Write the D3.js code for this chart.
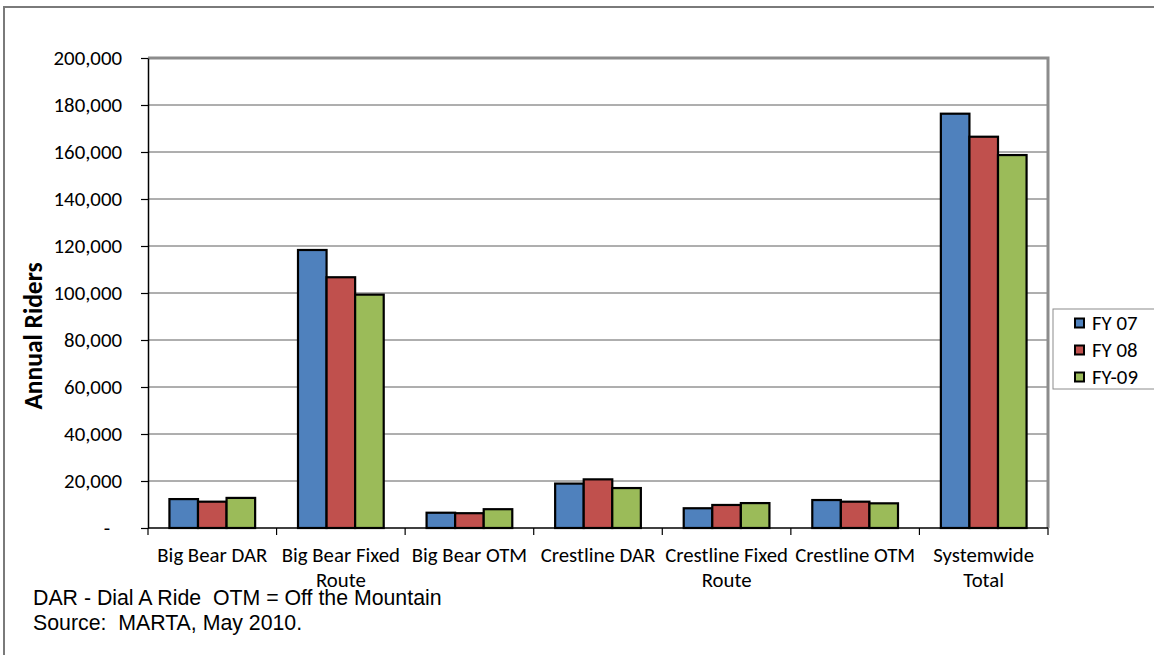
<!DOCTYPE html>
<html>
<head>
<meta charset="utf-8">
<script src="https://cdn.jsdelivr.net/npm/d3@7"></script>
<style>
  html, body { margin: 0; padding: 0; background: #fff; }
  svg { display: block; }
  .calib { font-family: Carlito, Calibri, Lato, sans-serif; }
  .note { white-space: pre; }
</style>
</head>
<body>
<svg id="chart" width="1154" height="655"></svg>
<script>
// Annual riders by service, three fiscal years
const categories = ["Big Bear DAR", "Big Bear Fixed Route", "Big Bear OTM", "Crestline DAR",
                    "Crestline Fixed Route", "Crestline OTM", "Systemwide Total"];
const seriesNames = ["FY 07", "FY 08", "FY-09"];
const fy07 = [12300, 118300, 6500, 18900, 8400, 11900, 176300];
const fy08 = [11200, 106700, 6300, 20700, 9800, 11200, 166500];
const fy09 = [12800, 99300, 8000, 17000, 10600, 10500, 158700];
const seriesColors = ["#4F81BD", "#C0504D", "#9BBB59"];
const yTicks = [0, 20000, 40000, 60000, 80000, 100000, 120000, 140000, 160000, 180000, 200000];
const footnotes = ["DAR - Dial A Ride  OTM = Off the Mountain", "Source:  MARTA, May 2010."];

const seriesValues = [fy07, fy08, fy09];
const rows = categories.map((c, i) => ({
  category: c,
  values: seriesNames.map((s, j) => ({ series: s, value: seriesValues[j][i], color: seriesColors[j] }))
}));

const svg = d3.select("#chart");
const plot = { left: 148, right: 1048, top: 58, bottom: 528 };
const labelSize = 20.8;

// outer chart frame (runs off the right and bottom edges)
svg.append("rect")
  .attr("x", 4).attr("y", 7).attr("width", 1300).attr("height", 800)
  .attr("fill", "#fff").attr("stroke", "#7a7a7a").attr("stroke-width", 2);

const y = d3.scaleLinear().domain([0, 200000]).range([plot.bottom, plot.top]);
const x0 = d3.scaleBand().domain(categories).range([plot.left, plot.right]).padding(0);
const x1 = d3.scaleBand().domain(seriesNames).range([0, x0.bandwidth()])
  .paddingInner(0).paddingOuter(0.75);

// horizontal gridlines
svg.append("g").selectAll("line").data(yTicks.filter(t => t > 0 && t < 200000)).join("line")
  .attr("x1", plot.left).attr("x2", plot.right)
  .attr("y1", d => y(d)).attr("y2", d => y(d))
  .attr("stroke", "#5e5e5e").attr("stroke-width", 1);

// plot area border (top and right)
svg.append("path")
  .attr("d", `M${plot.left},${y(200000)}H${plot.right}V${plot.bottom}`)
  .attr("fill", "none").attr("stroke", "#8c8c8c").attr("stroke-width", 3);

// bars
const groups = svg.append("g").selectAll("g").data(rows).join("g")
  .attr("transform", d => `translate(${x0(d.category)},0)`);
groups.selectAll("rect").data(d => d.values).join("rect")
  .attr("x", d => x1(d.series))
  .attr("y", d => y(d.value))
  .attr("width", x1.bandwidth())
  .attr("height", d => y(0) - y(d.value))
  .attr("fill", d => d.color)
  .attr("stroke", "#000").attr("stroke-width", 2.2);

// y axis
const yAxis = d3.axisLeft(y).tickValues(yTicks)
  .tickFormat(d => d === 0 ? "-" : d3.format(",")(d))
  .tickSizeInner(7).tickSizeOuter(0).tickPadding(19);
const gy = svg.append("g").attr("transform", `translate(${plot.left},0)`).call(yAxis);
gy.select(".domain").attr("stroke", "#000").attr("stroke-width", 1.5);
gy.selectAll(".tick line").attr("stroke", "#000").attr("stroke-width", 1.2);
gy.selectAll(".tick text")
  .attr("class", "calib").attr("font-size", labelSize).attr("fill", "#000")
  .attr("dx", d => d === 0 ? -12 : 0);

// x axis: ticks on category boundaries
const boundaries = categories.map(c => x0(c)).concat([plot.right]);
svg.append("line")
  .attr("x1", plot.left).attr("x2", plot.right)
  .attr("y1", plot.bottom).attr("y2", plot.bottom)
  .attr("stroke", "#000").attr("stroke-width", 1.5);
svg.append("g").selectAll("line").data(boundaries).join("line")
  .attr("x1", d => d).attr("x2", d => d)
  .attr("y1", plot.bottom).attr("y2", plot.bottom + 7)
  .attr("stroke", "#000").attr("stroke-width", 1.2);

// category labels, wrapped to the category width
const labels = svg.append("g").selectAll("text").data(categories).join("text")
  .attr("class", "calib").attr("font-size", labelSize).attr("fill", "#000")
  .attr("text-anchor", "middle")
  .attr("x", d => x0(d) + x0.bandwidth() / 2)
  .attr("y", 562);
labels.each(function (d) {
  const el = d3.select(this);
  const words = d.split(" ");
  const lines = [];
  let line = [];
  const probe = el.append("tspan");
  words.forEach(w => {
    const trial = line.concat([w]).join(" ");
    probe.text(trial);
    if (line.length && probe.node().getComputedTextLength() > x0.bandwidth() + 4) {
      lines.push(line.join(" "));
      line = [w];
    } else {
      line.push(w);
    }
  });
  lines.push(line.join(" "));
  probe.remove();
  lines.forEach((l, i) => {
    el.append("tspan").attr("x", x0(d) + x0.bandwidth() / 2).attr("dy", i === 0 ? 0 : 25).text(l);
  });
});

// y axis title
svg.append("text")
  .attr("class", "calib").attr("font-size", 25.5).attr("font-weight", "bold").attr("fill", "#000")
  .attr("text-anchor", "middle")
  .attr("transform", "translate(42,336) rotate(-90)")
  .text("Annual Riders");

// legend
const legend = svg.append("g");
legend.append("rect")
  .attr("x", 1053).attr("y", 309).attr("width", 140).attr("height", 80)
  .attr("fill", "#fff").attr("stroke", "#8c8c8c").attr("stroke-width", 1);
const items = legend.selectAll("g").data(seriesNames).join("g")
  .attr("transform", (d, i) => `translate(1075,${323 + i * 27})`);
items.append("rect")
  .attr("x", 0).attr("y", -4.5).attr("width", 9).attr("height", 9)
  .attr("fill", (d, i) => seriesColors[i]).attr("stroke", "#000").attr("stroke-width", 2);
items.append("text")
  .attr("class", "calib").attr("font-size", labelSize).attr("fill", "#000")
  .attr("x", 17).attr("dy", "0.35em").text(d => d);

// footnotes
svg.append("g").selectAll("text").data(footnotes).join("text")
  .attr("class", "note")
  .attr("font-family", "'Liberation Sans', Arial, sans-serif").attr("font-size", 21.3).attr("fill", "#000")
  .attr("x", 33).attr("y", (d, i) => 605 + i * 25)
  .text(d => d);
</script>
</body>
</html>
